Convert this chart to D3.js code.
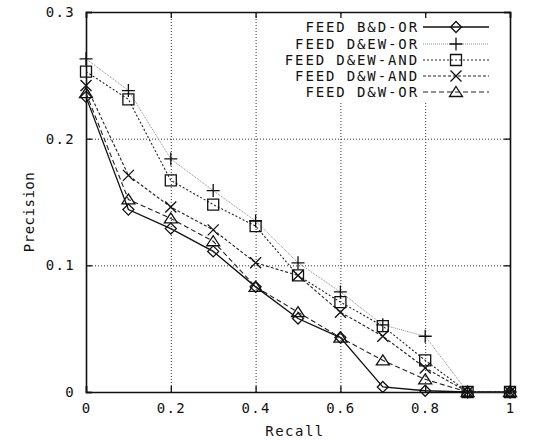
<!DOCTYPE html>
<html>
<head>
<meta charset="utf-8">
<script src="https://cdn.jsdelivr.net/npm/d3@7"></script>
<style>
  body { margin: 0; background: #fff; }
  text { font-family: "DejaVu Sans Mono", "Liberation Mono", monospace; fill: #111; }
</style>
</head>
<body>
<div id="chart"></div>
<script>
// Recall points and series
var recall = [0, 0.1, 0.2, 0.3, 0.4, 0.5, 0.6, 0.7, 0.8, 0.9, 1];
var series_names = ['FEED B&D-OR', 'FEED D&EW-OR', 'FEED D&EW-AND', 'FEED D&W-AND', 'FEED D&W-OR'];
var bd_or   = [0.233, 0.144, 0.129, 0.111, 0.083, 0.058, 0.043, 0.004, 0.001, 0, 0];
var dew_or  = [0.263, 0.238, 0.184, 0.159, 0.135, 0.102, 0.079, 0.053, 0.044, 0, 0];
var dew_and = [0.253, 0.231, 0.167, 0.148, 0.131, 0.092, 0.071, 0.052, 0.025, 0, 0];
var dw_and  = [0.242, 0.171, 0.146, 0.128, 0.102, 0.092, 0.063, 0.044, 0.019, 0, 0];
var dw_or   = [0.236, 0.152, 0.137, 0.119, 0.083, 0.063, 0.043, 0.025, 0.010, 0, 0];
var x_ticks = [0, 0.2, 0.4, 0.6, 0.8, 1];
var y_ticks = [0, 0.1, 0.2, 0.3];

var all_values = [bd_or, dew_or, dew_and, dw_and, dw_or];
var styles = [
    { dash: null,  color: '#111', width: 1.3, marker: 'diamond' },
    { dash: '1,1', color: '#888', width: 1,   marker: 'plus' },
    { dash: '2,2', color: '#222', width: 1.1, marker: 'square' },
    { dash: '3,2', color: '#222', width: 1.1, marker: 'cross' },
    { dash: '5,3', color: '#222', width: 1.1, marker: 'triangle' }
];

var chart_width = 537;
var chart_height = 440;
var p_left = 86, p_right = 510, p_top = 12, p_bottom = 392;

var svg = d3.select('#chart')
    .append('svg')
    .attr('width', chart_width)
    .attr('height', chart_height);

var x_scale = d3.scaleLinear().domain([0, 1]).range([p_left, p_right]);
var y_scale = d3.scaleLinear().domain([0, 0.3]).range([p_bottom, p_top]);

function fmt(d) {
    return d === 0 ? '0' : (d === 1 ? '1' : d3.format('.1f')(d));
}

// Grid lines (dotted)
svg.append('g')
    .attr('class', 'grid')
    .attr('transform', 'translate(0,' + p_bottom + ')')
    .call(d3.axisBottom(x_scale).tickValues([0.2, 0.4, 0.6, 0.8]).tickSize(-(p_bottom - p_top)).tickFormat(''));
svg.append('g')
    .attr('class', 'grid')
    .attr('transform', 'translate(' + p_left + ',0)')
    .call(d3.axisLeft(y_scale).tickValues([0.1, 0.2]).tickSize(-(p_right - p_left)).tickFormat(''));
svg.selectAll('.grid .domain').remove();
svg.selectAll('.grid line')
    .attr('stroke', '#333')
    .attr('stroke-width', 1)
    .attr('stroke-dasharray', '1,2');

// Legend background hides grid under it
svg.append('rect')
    .attr('x', 268).attr('y', 16)
    .attr('width', 238).attr('height', 86)
    .attr('fill', '#fff');

// Axes with inward ticks on all four sides
var x_axis = d3.axisBottom(x_scale).tickValues(x_ticks).tickSize(-6).tickPadding(11).tickFormat(fmt);
var y_axis = d3.axisLeft(y_scale).tickValues(y_ticks).tickSize(-6).tickPadding(11).tickFormat(fmt);

svg.append('g').attr('class', 'ax').attr('transform', 'translate(0,' + p_bottom + ')').call(x_axis);
svg.append('g').attr('class', 'ax').attr('transform', 'translate(' + p_left + ',0)').call(y_axis);
svg.append('g').attr('class', 'ax').attr('transform', 'translate(0,' + p_top + ')')
    .call(d3.axisTop(x_scale).tickValues(x_ticks).tickSize(-6).tickFormat(''));
svg.append('g').attr('class', 'ax').attr('transform', 'translate(' + p_right + ',0)')
    .call(d3.axisRight(y_scale).tickValues(y_ticks).tickSize(-6).tickFormat(''));

svg.selectAll('.ax .domain').attr('stroke', '#111').attr('stroke-width', 1.6);
svg.selectAll('.ax .tick line').attr('stroke', '#111').attr('stroke-width', 1.3);
svg.selectAll('.ax .tick text')
    .attr('font-size', 14)
    .attr('letter-spacing', 1.3)
    .style('font-family', '"DejaVu Sans Mono", monospace')
    .attr('fill', '#111');

// Axis titles
svg.append('text')
    .text('Recall')
    .attr('x', (p_left + p_right) / 2 - 3)
    .attr('y', 436)
    .attr('text-anchor', 'middle')
    .attr('font-size', 14)
    .attr('letter-spacing', 1.5);
svg.append('text')
    .text('Precision')
    .attr('transform', 'translate(34,' + 212 + ') rotate(-90)')
    .attr('text-anchor', 'middle')
    .attr('font-size', 14)
    .attr('letter-spacing', 0.5);

// Marker shapes
function marker(type, cx, cy) {
    var s = 5.5;
    if (type === 'diamond') {
        return 'M' + cx + ',' + (cy - s) + 'L' + (cx + s) + ',' + cy + 'L' + cx + ',' + (cy + s) + 'L' + (cx - s) + ',' + cy + 'Z';
    }
    if (type === 'plus') {
        return 'M' + (cx - s - 1) + ',' + cy + 'H' + (cx + s + 1) + 'M' + cx + ',' + (cy - s - 1) + 'V' + (cy + s + 1);
    }
    if (type === 'square') {
        return 'M' + (cx - s) + ',' + (cy - s) + 'H' + (cx + s) + 'V' + (cy + s) + 'H' + (cx - s) + 'Z';
    }
    if (type === 'cross') {
        return 'M' + (cx - s) + ',' + (cy - s) + 'L' + (cx + s) + ',' + (cy + s) + 'M' + (cx + s) + ',' + (cy - s) + 'L' + (cx - s) + ',' + (cy + s);
    }
    // triangle
    return 'M' + cx + ',' + (cy - s) + 'L' + (cx + s + 1) + ',' + (cy + s - 1) + 'L' + (cx - s - 1) + ',' + (cy + s - 1) + 'Z';
}

var line = d3.line()
    .x(function(d, i) { return x_scale(recall[i]); })
    .y(function(d) { return y_scale(d); });

all_values.forEach(function(vals, k) {
    var st = styles[k];
    svg.append('path')
        .attr('d', line(vals))
        .attr('fill', 'none')
        .attr('stroke', st.color)
        .attr('stroke-width', st.width)
        .attr('stroke-dasharray', st.dash);
    svg.selectAll('.m' + k)
        .data(vals)
        .enter()
        .append('path')
        .attr('class', 'm' + k)
        .attr('d', function(d, i) { return marker(st.marker, x_scale(recall[i]), y_scale(d)); })
        .attr('fill', 'none')
        .attr('stroke', '#111')
        .attr('stroke-width', 1.3);
});

// Legend
var leg_y = [27, 44, 60, 76, 92];
series_names.forEach(function(name, k) {
    var st = styles[k];
    svg.append('text')
        .text(name)
        .attr('x', 419)
        .attr('y', leg_y[k])
        .attr('dy', '0.35em')
        .attr('text-anchor', 'end')
        .attr('font-size', 14)
        .attr('letter-spacing', 1.9);
    svg.append('line')
        .attr('x1', 423).attr('x2', 489)
        .attr('y1', leg_y[k]).attr('y2', leg_y[k])
        .attr('stroke', st.color)
        .attr('stroke-width', st.width)
        .attr('stroke-dasharray', st.dash);
    svg.append('path')
        .attr('d', marker(st.marker, 456, leg_y[k]))
        .attr('fill', 'none')
        .attr('stroke', '#111')
        .attr('stroke-width', 1.3);
});
</script>
</body>
</html>
